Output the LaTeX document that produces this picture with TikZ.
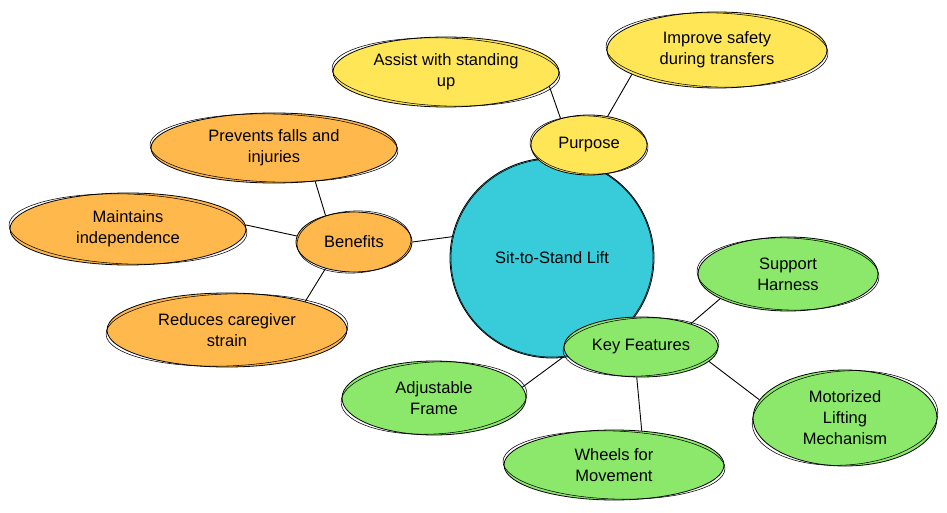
\documentclass[tikz,border=0pt]{standalone}
\usepackage{fontspec}
\setmainfont{Liberation Sans}
\usetikzlibrary{shapes.geometric,backgrounds}
\definecolor{yel}{HTML}{FFE657}
\definecolor{ora}{HTML}{FFB84C}
\definecolor{cya}{HTML}{38CCDB}
\definecolor{gre}{HTML}{8CE86A}
\tikzset{
  bub/.style={ellipse, draw=black, line width=0.8pt, inner sep=0pt, align=center,
    font=\fontsize{16.5}{21}\selectfont},
  link/.style={draw=black, line width=0.9pt},
  sketch/.style={draw=black, line width=0.55pt},
}
\newcommand\sk[4]{\draw[sketch, shift={(#1.center)}, rotate=#4] (0,0) ellipse [x radius=#2pt, y radius=#3pt];}
\begin{document}
\begin{tikzpicture}[x=1pt,y=-1pt]
\useasboundingbox (0,0) rectangle (947,513);
% central
\node[bub, fill=cya, minimum width=204pt, minimum height=200pt] (ctr) at (552,258) {Sit-to-Stand Lift};
\sk{ctr}{101}{99}{3}
% purpose branch
\node[bub, fill=yel, minimum width=116pt, minimum height=60pt] (pur) at (589,145) {Purpose};
\sk{pur}{59}{29}{-3}
\node[bub, fill=yel, minimum width=226pt, minimum height=70pt] (assist) at (446,72) {Assist with standing\\up};
\sk{assist}{114}{34}{-2}
\node[bub, fill=yel, minimum width=220pt, minimum height=76pt] (imp) at (717,50) {Improve safety\\during transfers};
\sk{imp}{111}{37}{-2}
% benefits branch
\node[bub, fill=ora, minimum width=116pt, minimum height=60pt] (ben) at (354,242) {Benefits};
\sk{ben}{57}{31}{3}
\node[bub, fill=ora, minimum width=246pt, minimum height=70pt] (prev) at (274,148) {Prevents falls and\\injuries};
\sk{prev}{124}{34}{-1.5}
\node[bub, fill=ora, minimum width=236pt, minimum height=72pt] (main) at (128,229) {Maintains\\independence};
\sk{main}{119}{35}{-2}
\node[bub, fill=ora, minimum width=240pt, minimum height=74pt] (red) at (227,330) {Reduces caregiver\\strain};
\sk{red}{121}{36}{2}
% key features branch
\node[bub, fill=gre, minimum width=154pt, minimum height=60pt] (kf) at (641,347) {Key Features};
\sk{kf}{78}{29}{3}
\node[bub, fill=gre, minimum width=180pt, minimum height=74pt] (sup) at (788,274) {Support\\Harness};
\sk{sup}{91}{36}{-2}
\node[bub, fill=gre, minimum width=184pt, minimum height=74pt] (adj) at (434,398) {Adjustable\\Frame};
\sk{adj}{93}{36}{3}
\node[bub, fill=gre, minimum width=220pt, minimum height=70pt] (whe) at (614,465) {Wheels for\\Movement};
\sk{whe}{111}{34}{-2}
\node[bub, fill=gre, minimum width=184pt, minimum height=96pt] (mot) at (845,418) {Motorized\\Lifting\\Mechanism};
\sk{mot}{93}{47}{4}
% connectors
\begin{scope}[on background layer]
\draw[link] (ctr) -- (pur);
\draw[link] (ctr) -- (kf);
\draw[link] (pur.137) -- (assist.352);
\draw[link] (pur.57) -- (imp.196);
\draw[link] (ben.0) -- (ctr.168);
\draw[link] (ben.137) -- (prev.321);
\draw[link] (ben.174) -- (main.2);
\draw[link] (ben.223) -- (red.20);
\draw[link] (kf.25) -- (sup.200);
\draw[link] (kf.186) -- (adj.7);
\draw[link] (kf.262) -- (whe.51);
\draw[link] (kf.348) -- (mot.168);
\end{scope}
\end{tikzpicture}
\end{document}
